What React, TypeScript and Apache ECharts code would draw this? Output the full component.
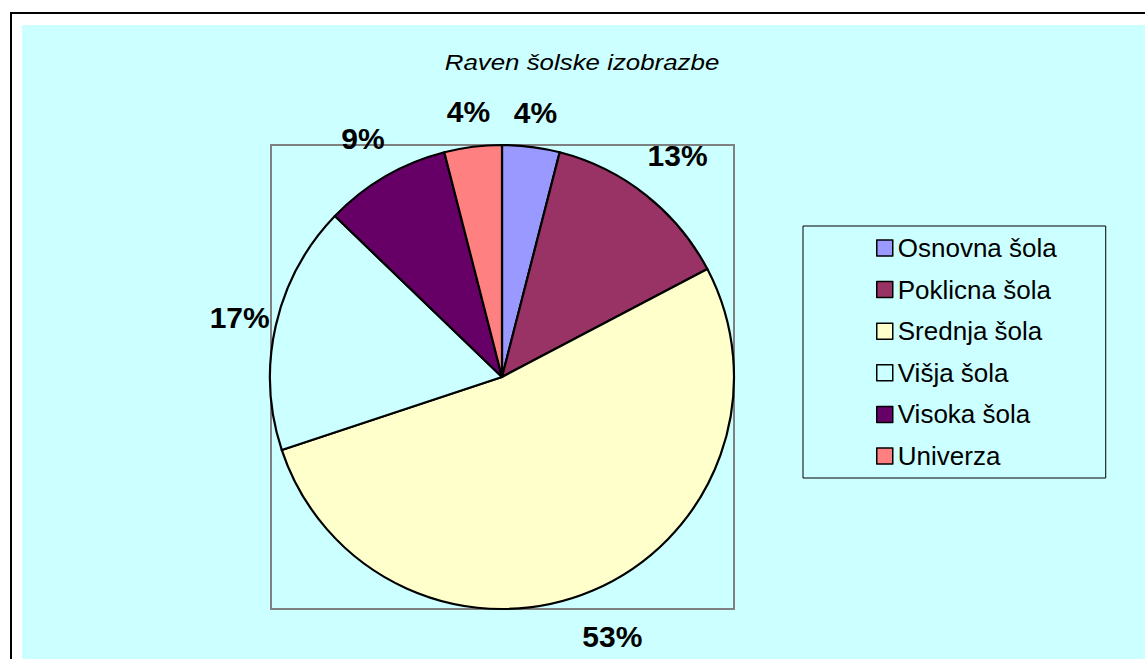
import React, { useEffect, useRef } from "react";
import * as echarts from "echarts";

const titleText = "Raven šolske izobrazbe";
const categories = ["Osnovna šola", "Poklicna šola", "Srednja šola", "Višja šola", "Visoka šola", "Univerza"];
const values = [4.0, 13.3, 52.6, 17.3, 8.8, 4.0];
const colors = ["#9999FF", "#993366", "#FFFFCC", "#CCFFFF", "#660066", "#FF8080"];
const labelDistances = [35, 51, 50, 37, 44, 36];

const FONT = "'Liberation Sans', Arial, sans-serif";

export default function App() {
  const ref = useRef<HTMLDivElement>(null);
  useEffect(() => {
    if (!ref.current) return;
    const chart = echarts.init(ref.current, undefined, { renderer: "svg" });
    chart.setOption({
      animation: false,
      graphic: [
        {
          type: "rect",
          z: -10,
          shape: { x: 11, y: 13, width: 1300, height: 800 },
          style: { fill: "#FFFFFF", stroke: "#000000", lineWidth: 2 },
          silent: true,
        },
        {
          type: "rect",
          z: -9,
          shape: { x: 22, y: 25, width: 1300, height: 800 },
          style: { fill: "#CCFFFF" },
          silent: true,
        },
        {
          type: "rect",
          z: -8,
          shape: { x: 271, y: 145, width: 463, height: 464 },
          style: { fill: "none", stroke: "#808080", lineWidth: 2 },
          silent: true,
        },
        {
          type: "text",
          z: 5,
          x: 582,
          y: 62,
          scaleX: 1.15,
          style: {
            text: titleText,
            fontFamily: FONT,
            fontStyle: "italic",
            fontSize: 22.5,
            fill: "#000000",
            align: "center",
            verticalAlign: "middle",
          },
        },
      ],
      legend: {
        orient: "vertical",
        left: 803,
        top: 226,
        padding: [9, 49, 9, 73],
        itemGap: 15.6,
        itemWidth: 16,
        itemHeight: 16,
        icon: "rect",
        selectedMode: false,
        backgroundColor: "#CCFFFF",
        borderColor: "#000000",
        borderWidth: 1,
        itemStyle: { borderColor: "#000000", borderWidth: 1.5 },
        textStyle: { fontFamily: FONT, fontSize: 26, lineHeight: 25, color: "#000000" },
        data: categories.map((c) => ({ name: c })),
      },
      series: [
        {
          type: "pie",
          center: [502, 377],
          radius: 232,
          startAngle: 90,
          clockwise: true,
          avoidLabelOverlap: false,
          percentPrecision: 0,
          itemStyle: { borderColor: "#000000", borderWidth: 2.2 },
          emphasis: { disabled: true },
          label: {
            show: true,
            position: "outside",
            formatter: "{d}%",
            fontFamily: FONT,
            fontWeight: "bold",
            fontSize: 30,
            color: "#000000",
            distanceToLabelLine: 0,
          },
          labelLine: { show: false, length: 40, length2: 0 },
          labelLayout: () => ({ align: "center", verticalAlign: "middle" }),
          data: categories.map((c, i) => ({
            name: c,
            value: values[i],
            itemStyle: { color: colors[i] },
            labelLine: { show: false, length: labelDistances[i], length2: 0 },
          })),
        },
      ],
    });
    return () => chart.dispose();
  }, []);
  return (
    <div
      ref={ref}
      style={{ position: "absolute", left: 0, top: 0, width: 1145, height: 659 }}
    />
  );
}
